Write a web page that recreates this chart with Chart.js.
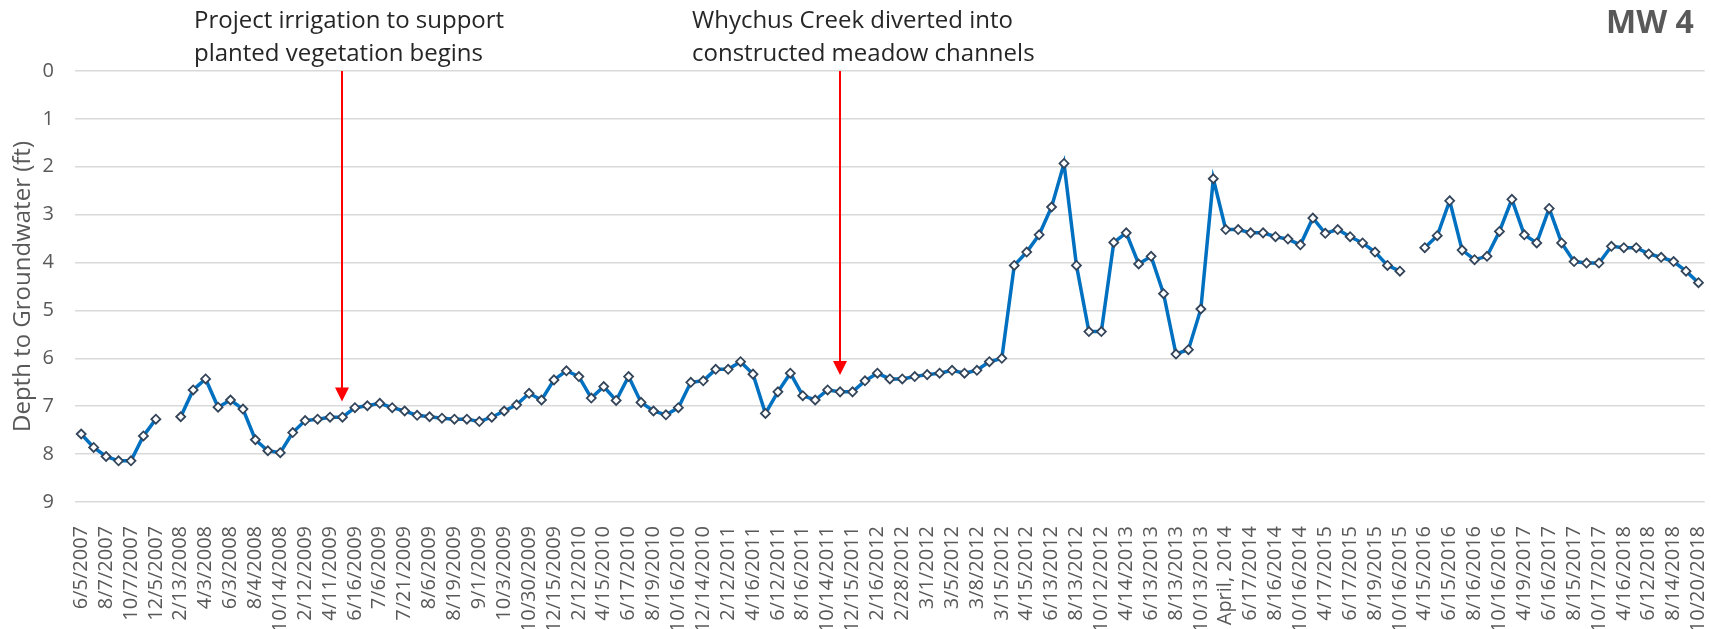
<!DOCTYPE html>
<html>
<head>
<meta charset="utf-8">
<title>MW 4</title>
<script src="https://cdn.jsdelivr.net/npm/chart.js@4.4.1/dist/chart.umd.min.js"></script>
<style>
  html, body { margin: 0; padding: 0; background: #fff; }
  canvas { display: block; }
</style>
</head>
<body>
<canvas id="mw4" width="1711" height="629"></canvas>
<script>
// every second sampling date is shown on the axis
const tickLabels = [
    '6/5/2007', '8/7/2007', '10/7/2007', '12/5/2007', '2/13/2008', '4/3/2008', '6/3/2008', '8/4/2008',
    '10/14/2008', '2/12/2009', '4/11/2009', '6/16/2009', '7/6/2009', '7/21/2009', '8/6/2009', '8/19/2009',
    '9/1/2009', '10/3/2009', '10/30/2009', '12/15/2009', '2/12/2010', '4/15/2010', '6/17/2010', '8/19/2010',
    '10/16/2010', '12/14/2010', '2/12/2011', '4/16/2011', '6/12/2011', '8/16/2011', '10/14/2011', '12/15/2011',
    '2/16/2012', '2/28/2012', '3/1/2012', '3/5/2012', '3/8/2012', '3/15/2012', '4/15/2012', '6/13/2012',
    '8/13/2012', '10/12/2012', '4/14/2013', '6/13/2013', '8/13/2013', '10/13/2013', 'April, 2014', '6/17/2014',
    '8/16/2014', '10/16/2014', '4/17/2015', '6/17/2015', '8/19/2015', '10/16/2015', '4/15/2016', '6/15/2016',
    '8/16/2016', '10/16/2016', '4/19/2017', '6/16/2017', '8/15/2017', '10/17/2017', '4/16/2018', '6/12/2018',
    '8/14/2018', '10/20/2018'
];

// depth to groundwater (ft), one value per sampling date, null = no reading
const depth = [
    7.58, 7.86, 8.05, 8.14, 8.14, 7.62, 7.27, null, 7.22, 6.66,
    6.43, 7.02, 6.87, 7.06, 7.70, 7.93, 7.97, 7.55, 7.30, 7.27,
    7.23, 7.23, 7.03, 6.99, 6.94, 7.03, 7.10, 7.19, 7.22, 7.25,
    7.27, 7.27, 7.32, 7.23, 7.10, 6.97, 6.73, 6.87, 6.45, 6.26,
    6.38, 6.83, 6.59, 6.88, 6.38, 6.92, 7.10, 7.18, 7.03, 6.50,
    6.47, 6.23, 6.23, 6.07, 6.33, 7.15, 6.70, 6.31, 6.78, 6.87,
    6.66, 6.70, 6.70, 6.47, 6.31, 6.43, 6.43, 6.38, 6.34, 6.31,
    6.25, 6.31, 6.25, 6.07, 6.00, 4.06, 3.78, 3.42, 2.84, 1.93,
    4.06, 5.44, 5.44, 3.58, 3.38, 4.03, 3.87, 4.65, 5.91, 5.82,
    4.97, 2.25, 3.31, 3.31, 3.38, 3.38, 3.46, 3.51, 3.63, 3.07,
    3.39, 3.31, 3.46, 3.59, 3.78, 4.06, 4.18, null, 3.69, 3.44,
    2.71, 3.74, 3.94, 3.87, 3.35, 2.68, 3.42, 3.59, 2.87, 3.59,
    3.98, 4.01, 4.01, 3.66, 3.69, 3.69, 3.82, 3.89, 3.98, 4.18,
    4.42
];

// project events marked with red arrows
const eventIndex = [21, 61];
const eventTip = [6.9, 6.35];
const eventText = [
    ['Project irrigation to support', 'planted vegetation begins'],
    ['Whychus Creek diverted into', 'constructed meadow channels']
];

const categories = depth.map((_, i) => i % 2 === 0 ? tickLabels[i / 2] : '');

const eventsPlugin = {
    id: 'events',
    afterDatasetsDraw(chart) {
        const ctx = chart.ctx;
        const x = chart.scales.x;
        const y = chart.scales.y;
        ctx.save();
        eventIndex.forEach((idx, n) => {
            const px = Math.round(x.getPixelForValue(idx));
            const top = y.getPixelForValue(0);
            const tip = y.getPixelForValue(eventTip[n]);
            ctx.strokeStyle = '#ff0000';
            ctx.lineWidth = 2;
            ctx.beginPath();
            ctx.moveTo(px, top);
            ctx.lineTo(px, tip - 12);
            ctx.stroke();
            ctx.fillStyle = '#ff0000';
            ctx.beginPath();
            ctx.moveTo(px - 7, tip - 14);
            ctx.lineTo(px + 7, tip - 14);
            ctx.lineTo(px, tip);
            ctx.closePath();
            ctx.fill();

            ctx.fillStyle = '#262626';
            ctx.font = '24px "Open Sans"';
            ctx.textAlign = 'left';
            ctx.textBaseline = 'alphabetic';
            eventText[n].forEach((line, k) => ctx.fillText(line, px - 148, 28 + k * 33));
        });
        ctx.font = 'bold 32px "Open Sans"';
        ctx.fillStyle = '#595959';
        ctx.textAlign = 'right';
        ctx.fillText('MW 4', chart.chartArea.right - 11, 33);
        ctx.restore();
    }
};

new Chart(document.getElementById('mw4'), {
    type: 'line',
    data: {
        labels: categories,
        datasets: [{
            data: depth,
            borderColor: '#0070c0',
            borderWidth: 3.5,
            tension: 0,
            spanGaps: false,
            pointStyle: 'rectRot',
            pointRadius: 4.5,
            pointBorderColor: '#34455a',
            pointBackgroundColor: '#ffffff',
            pointBorderWidth: 1.8
        }]
    },
    options: {
        responsive: false,
        animation: false,
        devicePixelRatio: 1,
        layout: { padding: { top: 71, right: 3, left: 0, bottom: 0 } },
        plugins: {
            legend: { display: false },
            tooltip: { enabled: false }
        },
        scales: {
            x: {
                offset: true,
                grid: { display: false },
                border: { display: false },
                ticks: {
                    autoSkip: false,
                    maxRotation: 90,
                    minRotation: 90,
                    padding: 16,
                    color: '#595959',
                    font: { family: 'Open Sans', size: 20 }
                },
                afterFit(scale) {
                    scale.height = 127;
                    scale.paddingLeft = 0;
                    scale.paddingRight = 0;
                }
            },
            y: {
                reverse: true,
                min: 0,
                max: 9,
                grid: { color: '#d9d9d9', lineWidth: 1.5, drawTicks: false },
                border: { display: false },
                ticks: {
                    stepSize: 1,
                    padding: 21,
                    color: '#595959',
                    font: { family: 'Open Sans', size: 20 }
                },
                title: {
                    display: true,
                    text: 'Depth to Groundwater (ft)',
                    color: '#595959',
                    padding: { top: 9, bottom: 0 },
                    font: { family: 'Open Sans', size: 24 }
                },
                afterFit(scale) {
                    scale.width = 75;
                    scale.paddingTop = 0;
                    scale.paddingBottom = 0;
                }
            }
        }
    },
    plugins: [eventsPlugin]
});
</script>
</body>
</html>
